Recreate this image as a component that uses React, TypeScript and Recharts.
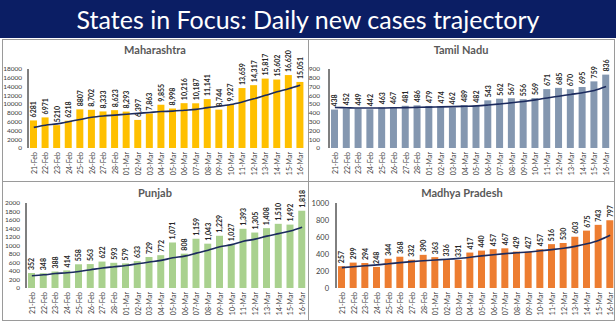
import { Bar, ComposedChart, LabelList, Line, XAxis, YAxis } from "recharts";

const dates = [
  "21-Feb", "22-Feb", "23-Feb", "24-Feb", "25-Feb", "26-Feb", "27-Feb", "28-Feb",
  "01-Mar", "02-Mar", "03-Mar", "04-Mar", "05-Mar", "06-Mar", "07-Mar", "08-Mar",
  "09-Mar", "10-Mar", "11-Mar", "12-Mar", "13-Mar", "14-Mar", "15-Mar", "16-Mar"
];

const maharashtraCases = [
  6281, 6971, 5210, 6218, 8807, 8702, 8333, 8623, 8293, 6397, 7863, 9855,
  8998, 10216, 10187, 11141, 8744, 9927, 13659, 14317, 15817, 15602, 16620, 15051
];
const maharashtraTrend = [
  4700, 5200, 5500, 6000, 6500, 7000, 7300, 7500, 7700, 7900, 8100, 8300,
  8400, 8600, 8800, 9200, 9500, 9900, 10500, 11200, 12000, 12800, 13500, 14300
];

const tamilNaduCases = [
  438, 452, 449, 442, 463, 467, 481, 486, 479, 474, 462, 489,
  482, 543, 562, 567, 556, 569, 671, 685, 670, 695, 759, 836
];
const tamilNaduTrend = [
  462, 458, 455, 455, 456, 458, 460, 463, 466, 468, 471, 475,
  480, 490, 502, 515, 530, 548, 570, 590, 610, 630, 655, 700
];

const punjabCases = [
  352, 348, 388, 414, 558, 563, 622, 593, 579, 633, 729, 772,
  1071, 808, 1159, 1043, 1229, 1027, 1393, 1305, 1408, 1510, 1492, 1818
];
const punjabTrend = [
  290, 310, 340, 360, 390, 430, 470, 500, 530, 570, 610, 650,
  710, 750, 820, 890, 970, 1020, 1100, 1150, 1220, 1280, 1340, 1430
];

const madhyaPradeshCases = [
  257, 299, 294, 248, 344, 368, 332, 390, 363, 336, 331, 417,
  440, 457, 467, 429, 427, 457, 516, 530, 603, 675, 743, 797
];
const madhyaPradeshTrend = [
  240, 250, 262, 272, 285, 298, 310, 320, 330, 338, 348, 362,
  378, 392, 404, 414, 424, 438, 452, 468, 490, 520, 560, 620
];

const maharashtraTicks = [0, 2000, 4000, 6000, 8000, 10000, 12000, 14000, 16000, 18000];
const tamilNaduTicks = [0, 100, 200, 300, 400, 500, 600, 700, 800, 900];
const punjabTicks = [0, 200, 400, 600, 800, 1000, 1200, 1400, 1600, 1800, 2000];
const madhyaPradeshTicks = [0, 200, 400, 600, 800, 1000];

const font = "Lato, 'Open Sans', sans-serif";
const trendColor = "#1c2b5e";

type PanelProps = {
  title: string;
  cases: number[];
  trend: number[];
  ticks: number[];
  color: string;
  left: number;
  top: number;
  width: number;
  height: number;
  plotTop: number;
  axisHeight: number;
  axisWidth: number;
  tickGap: number;
  rightPad: number;
  titleTop: number;
  plainUntil: number;
  tickFont: number;
};

function DateTick(props: any) {
  const { x, y, payload } = props;
  return (
    <text
      x={x}
      y={y}
      transform={`rotate(-90 ${x} ${y})`}
      textAnchor="end"
      dominantBaseline="central"
      fontSize={7}
      fill="#404040"
      fontFamily={font}
    >
      {payload.value}
    </text>
  );
}

function Panel(p: PanelProps) {
  const rows = dates.map((d, i) => ({
    date: d,
    cases: p.cases[i],
    trend: p.trend[i],
    label: i < p.plainUntil ? String(p.cases[i]) : p.cases[i].toLocaleString("en-US")
  }));
  const max = p.ticks[p.ticks.length - 1];

  const renderLabel = (props: any) => {
    const { x, y, width, index } = props;
    const cx = Number(x) + Number(width) / 2;
    const ty = Number(y) - 3;
    return (
      <text
        x={cx}
        y={ty}
        transform={`rotate(-90 ${cx} ${ty})`}
        textAnchor="start"
        dominantBaseline="central"
        fontSize={7}
        fontWeight={700}
        fill="#262626"
        fontFamily={font}
      >
        {rows[index].label}
      </text>
    );
  };

  return (
    <div
      style={{
        position: "absolute",
        left: p.left,
        top: p.top,
        width: p.width,
        height: p.height
      }}
    >
      <div
        style={{
          position: "absolute",
          top: p.titleTop,
          left: 0,
          width: p.width,
          textAlign: "center",
          fontFamily: font,
          fontWeight: 700,
          fontSize: 11,
          color: "#595959",
          lineHeight: "12px"
        }}
      >
        {p.title}
      </div>
      <ComposedChart
        width={p.width}
        height={p.height}
        data={rows}
        margin={{ top: p.plotTop, right: p.rightPad, left: 0, bottom: 0 }}
        style={{ overflow: "visible" }}
      >
        <XAxis
          dataKey="date"
          interval={0}
          axisLine={false}
          tickLine={false}
          tickSize={0}
          tickMargin={4}
          height={p.axisHeight}
          tick={<DateTick />}
        />
        <YAxis
          domain={[0, max]}
          ticks={p.ticks}
          interval={0}
          width={p.axisWidth}
          axisLine={{ stroke: "#000000", strokeWidth: 1 }}
          tickLine={false}
          tickSize={0}
          tickMargin={p.tickGap}
          tick={{ fontSize: p.tickFont, fill: "#404040", fontFamily: font }}
        />
        <Bar dataKey="cases" fill={p.color} barSize={7} isAnimationActive={false}>
          <LabelList dataKey="cases" content={renderLabel} />
        </Bar>
        <Line
          type="monotone"
          dataKey="trend"
          stroke={trendColor}
          strokeWidth={1.6}
          dot={false}
          isAnimationActive={false}
        />
      </ComposedChart>
    </div>
  );
}

export default function App() {
  return (
    <div
      style={{
        position: "absolute",
        left: 0,
        top: 0,
        width: 616,
        height: 322,
        background: "#ffffff",
        overflow: "hidden"
      }}
    >
      <div
        style={{
          position: "absolute",
          left: 0,
          top: 0,
          width: 616,
          height: 38,
          background: "#0b1e64",
          color: "#ffffff",
          fontFamily: font,
          fontSize: 25,
          lineHeight: "38px",
          textAlign: "center"
        }}
      >
        States in Focus: Daily new cases trajectory
      </div>
      <div style={{ position: "absolute", left: 2, top: 39, width: 611, height: 280, border: "1px solid #9a9a9a" }} />
      <div style={{ position: "absolute", left: 308, top: 39, width: 1, height: 282, background: "#9a9a9a" }} />
      <div style={{ position: "absolute", left: 2, top: 181, width: 612, height: 1, background: "#9a9a9a" }} />
      <Panel
        title="Maharashtra"
        cases={maharashtraCases}
        trend={maharashtraTrend}
        ticks={maharashtraTicks}
        color="#ffc000"
        left={2}
        top={39}
        width={306}
        height={142}
        plotTop={30}
        axisHeight={33}
        axisWidth={26}
        tickGap={6}
        rightPad={2}
        titleTop={5}
        plainUntil={5}
        tickFont={6.5}
      />
      <Panel
        title="Tamil Nadu"
        cases={tamilNaduCases}
        trend={tamilNaduTrend}
        ticks={tamilNaduTicks}
        color="#8497b0"
        left={308}
        top={39}
        width={306}
        height={142}
        plotTop={30}
        axisHeight={33}
        axisWidth={21}
        tickGap={9}
        rightPad={2}
        titleTop={5}
        plainUntil={0}
        tickFont={6.5}
      />
      <Panel
        title="Punjab"
        cases={punjabCases}
        trend={punjabTrend}
        ticks={punjabTicks}
        color="#a9d18e"
        left={2}
        top={181}
        width={306}
        height={139}
        plotTop={22}
        axisHeight={32}
        axisWidth={24}
        tickGap={6}
        rightPad={0}
        titleTop={6}
        plainUntil={0}
        tickFont={6.5}
      />
      <Panel
        title="Madhya Pradesh"
        cases={madhyaPradeshCases}
        trend={madhyaPradeshTrend}
        ticks={madhyaPradeshTicks}
        color="#ed7d31"
        left={308}
        top={181}
        width={308}
        height={139}
        plotTop={22}
        axisHeight={32}
        axisWidth={28}
        tickGap={7}
        rightPad={0}
        titleTop={6}
        plainUntil={0}
        tickFont={7.5}
      />
    </div>
  );
}
